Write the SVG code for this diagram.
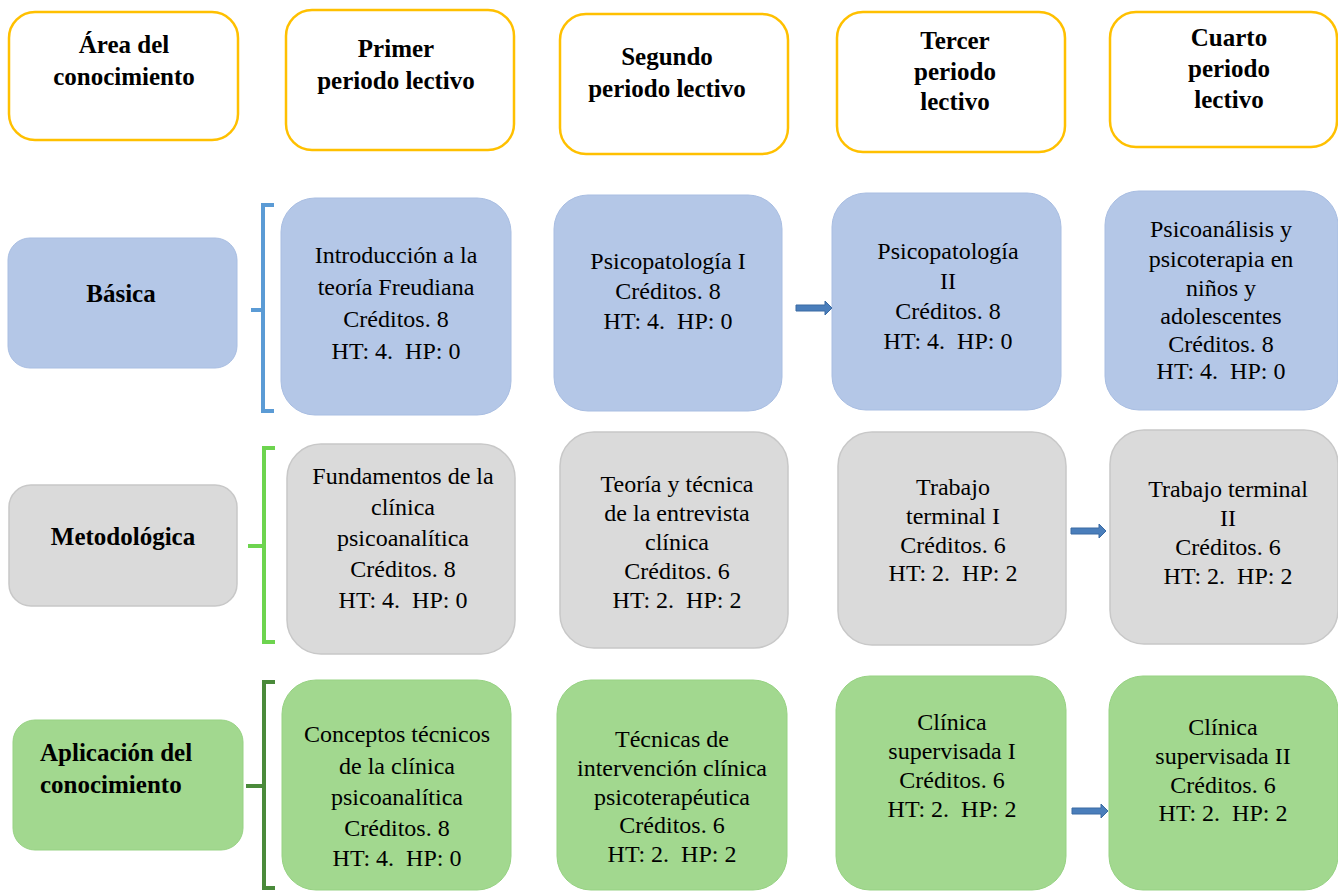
<svg xmlns="http://www.w3.org/2000/svg" width="1338" height="892" viewBox="0 0 1338 892">
<style>
text{font-family:"Liberation Serif","Times New Roman",serif;fill:#000;text-anchor:middle}
.h{font-size:25px;font-weight:bold}
.t{font-size:24px}
.hd{fill:#fff;stroke:#FFC000;stroke-width:2.5}
.b{fill:#B4C7E7;stroke:#A9BEE2;stroke-width:1}
.g{fill:#DADADA;stroke:#C8C8C8;stroke-width:1.5}
.v{fill:#A2D88F;stroke:#97D283;stroke-width:1}
.br{fill:none;stroke-width:4}
.ar{fill:#4A7EBB;stroke:#3A6AA3;stroke-width:1}
</style>
<g id="h-area"><rect class="hd" x="9" y="12" width="229" height="128" rx="26"/><text class="h" x="124" y="53">Área del</text><text class="h" x="124" y="85">conocimiento</text></g>
<g id="h-primer"><rect class="hd" x="286" y="10" width="228" height="140" rx="26"/><text class="h" x="396" y="57">Primer</text><text class="h" x="396" y="89">periodo lectivo</text></g>
<g id="h-segundo"><rect class="hd" x="560" y="14" width="228" height="140" rx="26"/><text class="h" x="667" y="65">Segundo</text><text class="h" x="667" y="97">periodo lectivo</text></g>
<g id="h-tercer"><rect class="hd" x="837" y="12" width="228" height="140" rx="26"/><text class="h" x="955" y="49">Tercer</text><text class="h" x="955" y="80">periodo</text><text class="h" x="955" y="110">lectivo</text></g>
<g id="h-cuarto"><rect class="hd" x="1110" y="12" width="227" height="135" rx="26"/><text class="h" x="1229" y="46">Cuarto</text><text class="h" x="1229" y="77">periodo</text><text class="h" x="1229" y="108">lectivo</text></g>

<g id="a-basica"><rect class="b" x="8" y="238" width="229" height="130" rx="22"/><text class="h" x="121" y="302">Básica</text></g>
<g id="a-metodologica"><rect class="g" x="9" y="485" width="228" height="121" rx="22"/><text class="h" x="123" y="545">Metodológica</text></g>
<g id="a-aplicacion"><rect class="v" x="13" y="720" width="230" height="130" rx="22"/><text class="h" x="40" y="761" style="text-anchor:start">Aplicación del</text><text class="h" x="40" y="793" style="text-anchor:start">conocimiento</text></g>

<g id="b1"><rect class="b" x="281" y="198" width="230" height="217" rx="34"/><text class="t" x="396" y="263">Introducción a la</text><text class="t" x="396" y="295">teoría Freudiana</text><text class="t" x="396" y="327">Créditos. 8</text><text class="t" x="396" y="359">HT: 4.&#160; HP: 0</text></g>
<g id="b2"><rect class="b" x="554" y="195" width="228" height="216" rx="34"/><text class="t" x="668" y="269">Psicopatología I</text><text class="t" x="668" y="299">Créditos. 8</text><text class="t" x="668" y="329">HT: 4.&#160; HP: 0</text></g>
<g id="b3"><rect class="b" x="832" y="193" width="229" height="217" rx="34"/><text class="t" x="948" y="259">Psicopatología</text><text class="t" x="948" y="289">II</text><text class="t" x="948" y="319">Créditos. 8</text><text class="t" x="948" y="349">HT: 4.&#160; HP: 0</text></g>
<g id="b4"><rect class="b" x="1105" y="191" width="233" height="219" rx="34"/><text class="t" x="1221" y="237">Psicoanálisis y</text><text class="t" x="1221" y="267">psicoterapia en</text><text class="t" x="1221" y="296">niños y</text><text class="t" x="1221" y="324">adolescentes</text><text class="t" x="1221" y="352">Créditos. 8</text><text class="t" x="1221" y="379">HT: 4.&#160; HP: 0</text></g>

<g id="m1"><rect class="g" x="287" y="444" width="228" height="210" rx="34"/><text class="t" x="403" y="484">Fundamentos de la</text><text class="t" x="403" y="515">clínica</text><text class="t" x="403" y="546">psicoanalítica</text><text class="t" x="403" y="577">Créditos. 8</text><text class="t" x="403" y="608">HT: 4.&#160; HP: 0</text></g>
<g id="m2"><rect class="g" x="560" y="432" width="228" height="216" rx="34"/><text class="t" x="677" y="492">Teoría y técnica</text><text class="t" x="677" y="521">de la entrevista</text><text class="t" x="677" y="550">clínica</text><text class="t" x="677" y="579">Créditos. 6</text><text class="t" x="677" y="608">HT: 2.&#160; HP: 2</text></g>
<g id="m3"><rect class="g" x="838" y="432" width="228" height="213" rx="34"/><text class="t" x="953" y="495">Trabajo</text><text class="t" x="953" y="524">terminal I</text><text class="t" x="953" y="553">Créditos. 6</text><text class="t" x="953" y="581">HT: 2.&#160; HP: 2</text></g>
<g id="m4"><rect class="g" x="1110" y="430" width="228" height="214" rx="34"/><text class="t" x="1228" y="497">Trabajo terminal</text><text class="t" x="1228" y="526">II</text><text class="t" x="1228" y="555">Créditos. 6</text><text class="t" x="1228" y="584">HT: 2.&#160; HP: 2</text></g>

<g id="p1"><rect class="v" x="282" y="680" width="229" height="210" rx="34"/><text class="t" x="397" y="742">Conceptos técnicos</text><text class="t" x="397" y="774">de la clínica</text><text class="t" x="397" y="805">psicoanalítica</text><text class="t" x="397" y="836">Créditos. 8</text><text class="t" x="397" y="866">HT: 4.&#160; HP: 0</text></g>
<g id="p2"><rect class="v" x="557" y="680" width="230" height="210" rx="34"/><text class="t" x="672" y="747">Técnicas de</text><text class="t" x="672" y="776">intervención clínica</text><text class="t" x="672" y="805">psicoterapéutica</text><text class="t" x="672" y="833">Créditos. 6</text><text class="t" x="672" y="862">HT: 2.&#160; HP: 2</text></g>
<g id="p3"><rect class="v" x="836" y="676" width="230" height="214" rx="34"/><text class="t" x="952" y="730">Clínica</text><text class="t" x="952" y="759">supervisada I</text><text class="t" x="952" y="788">Créditos. 6</text><text class="t" x="952" y="817">HT: 2.&#160; HP: 2</text></g>
<g id="p4"><rect class="v" x="1109" y="676" width="229" height="214" rx="34"/><text class="t" x="1223" y="735">Clínica</text><text class="t" x="1223" y="764">supervisada II</text><text class="t" x="1223" y="793">Créditos. 6</text><text class="t" x="1223" y="821">HT: 2.&#160; HP: 2</text></g>

<g id="connectors">
<path class="br" stroke="#5B9BD5" d="M274,205 H263 V411 H274 M263,310 H251"/>
<path class="br" stroke="#6DD44F" d="M275,448 H264 V642 H275 M264,546 H248"/>
<path class="br" stroke="#4A8A3A" d="M275,682 H264 V888 H275 M264,786 H246"/>
<polygon class="ar" points="796,305 825,305 825,301 832,308 825,315 825,311 796,311"/>
<polygon class="ar" points="1071,528 1099,528 1099,524 1106,531 1099,538 1099,534 1071,534"/>
<polygon class="ar" points="1072,808 1101,808 1101,804 1108,811 1101,818 1101,814 1072,814"/>
</g>
</svg>
